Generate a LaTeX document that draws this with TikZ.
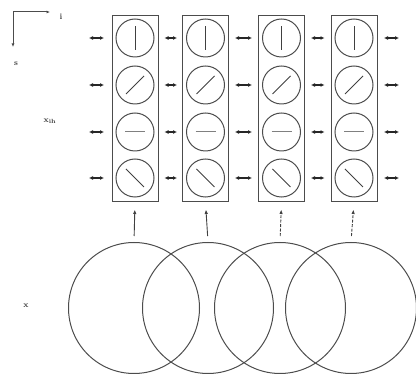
\documentclass[tikz,border=0pt]{standalone}
\usetikzlibrary{arrows.meta}
\begin{document}
\begin{tikzpicture}[x=1pt,y=-1pt,
  ln/.style={draw=black!70,line width=1pt},
  colbox/.style={ln,rectangle,minimum width=46pt,minimum height=186pt,inner sep=0pt},
  unit/.style={ln,circle,minimum size=38pt,inner sep=0pt},
  big/.style={ln,circle,minimum size=131pt,inner sep=0pt},
  ori/.style={draw=black!75,line width=1pt},
  lat/.style={draw=black!85,line width=1.2pt,{Latex[length=4pt,width=4pt]}-{Latex[length=4pt,width=4pt]}},
  ff/.style={draw=black!75,line width=0.9pt,-{Latex[length=4.5pt,width=3.5pt]}},
  lbl/.style={font=\footnotesize\bfseries,text=black!80,inner sep=0pt}]
\useasboundingbox (0,0) rectangle (416,374);
% axes
\coordinate (o) at (13,12);
\coordinate (ax) at (50,12);
\coordinate (ay) at (13,47);
\draw[ln,-{Latex[length=3.5pt,width=3pt]}] (o) -- (ax);
\draw[ln,-{Latex[length=3.5pt,width=3pt]}] (o) -- (ay);
\node[lbl] (li) at (61,17) {$\mathbf{i}$};
\node[lbl] (ls) at (16,64) {$\mathbf{s}$};
\node[lbl] (lx) at (50,121) {$\mathbf{x}_{\mathbf{ih}}$};
\node[lbl] (lbx) at (26,306) {$\mathbf{x}$};
% columns
\foreach \k/\cx in {1/135,2/205.5,3/281.5,4/354}{
  \node[colbox] (c\k) at (\cx,109) {};
  \node[unit] (u\k1) at (\cx,38) {};
  \node[unit] (u\k2) at (\cx,85) {};
  \node[unit] (u\k3) at (\cx,132) {};
  \node[unit] (u\k4) at (\cx,178) {};
  \draw[ori] ([yshift=-12pt]u\k1.center) -- ([yshift=12pt]u\k1.center);
  \draw[ori] ([shift={(-9,9)}]u\k2.center) -- ([shift={(9,-9)}]u\k2.center);
  \draw[ori,draw=black!50] ([xshift=-10pt]u\k3.center) -- ([xshift=10pt]u\k3.center);
  \draw[ori] ([shift={(-9,-9)}]u\k4.center) -- ([shift={(9,9)}]u\k4.center);
}
% big circles
\node[big] (b1) at (134,308) {};
\node[big] (b2) at (208,308) {};
\node[big] (b3) at (280,308) {};
\node[big] (b4) at (351,308) {};
% lateral arrows
\foreach \r/\y in {1/38,2/85,3/132,4/178}{
  \coordinate (l\r a) at (89,\y);
  \coordinate (l\r b) at (104,\y);
  \coordinate (r\r a) at (384,\y);
  \coordinate (r\r b) at (399,\y);
  \draw[lat] (l\r a) -- (l\r b);
  \draw[lat] (r\r a) -- (r\r b);
  \draw[lat,shorten <=6pt,shorten >=5pt] (c1.east |- l\r a) -- (c2.west |- l\r a);
  \draw[lat,shorten <=6pt,shorten >=6pt] (c2.east |- l\r a) -- (c3.west |- l\r a);
  \draw[lat,shorten <=6pt,shorten >=6pt] (c3.east |- l\r a) -- (c4.west |- l\r a);
}
% feedforward arrows
\draw[ff,shorten <=6pt,shorten >=7pt] (b1.north) -- (c1.south);
\draw[ff,shorten <=6pt,shorten >=7pt] (b2.north) -- (c2.south);
\draw[ff,dash pattern=on 3pt off 1.5pt,shorten <=6pt,shorten >=7pt] (b3.north) -- (c3.south);
\draw[ff,dash pattern=on 3pt off 1.5pt,shorten <=6pt,shorten >=7pt] (b4.north) -- (c4.south);
\end{tikzpicture}
\end{document}
